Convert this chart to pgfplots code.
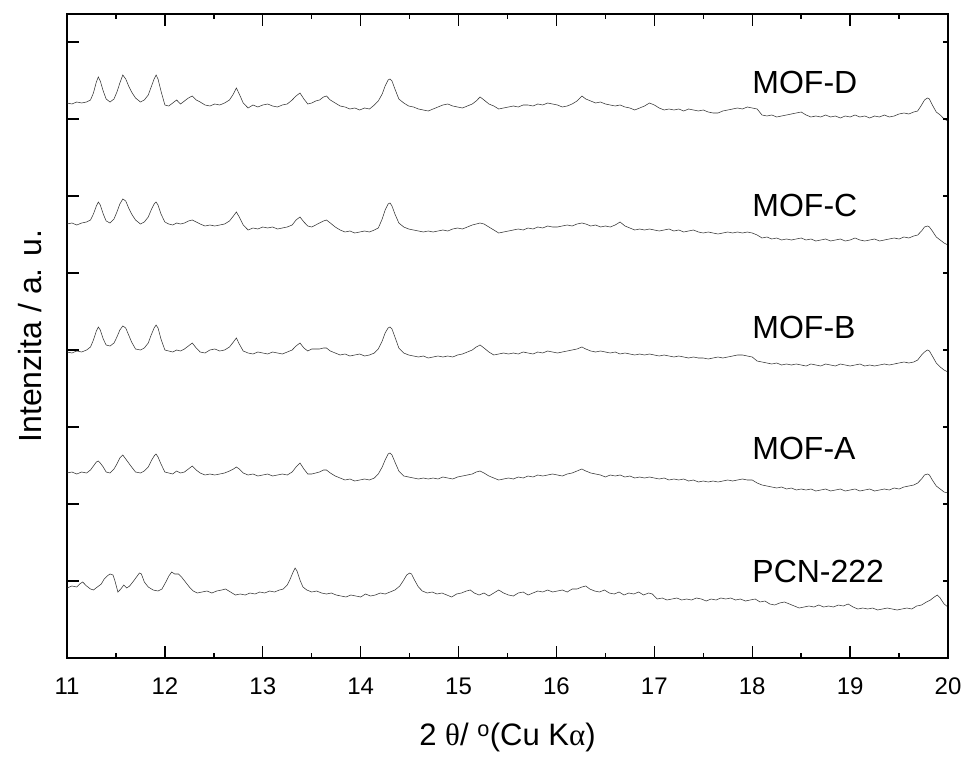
\documentclass[border=0pt]{standalone}
\usepackage{fontspec}
\setmainfont{Liberation Sans}
\newfontfamily\greek{Liberation Serif}
\usepackage{pgfplots}
\usepackage{pgfplotstable}
\pgfplotsset{compat=1.18}

% heights above a local baseline (arbitrary units), four MOF patterns on one 2theta grid
\pgfplotstableread{
x     D    C    B    A
11.00 0    0    0    0
11.05 -1   1    -1   1
11.10 1    -1   1    -1
11.15 0    1    0    1
11.20 1    2    2    0
11.24 3    4    5    3
11.27 10   10   12   7
11.30 21   18   21   11
11.32 26   22   25   12
11.34 22   19   22   10
11.37 12   10   13   6
11.40 4    3    7    1
11.44 1    1    6    0
11.48 4    5    9    4
11.51 11   12   15   9
11.54 20   20   22   15
11.57 28   25   26   18
11.60 24   23   24   14
11.63 17   16   17   10
11.66 11   10   10   6
11.70 5    4    3    1
11.75 1    0    2    0
11.79 3    2    4    2
11.83 8    7    9    6
11.86 16   14   17   12
11.89 24   20   24   17
11.91 28   22   27   19
11.93 24   19   24   16
11.96 12   10   13   9
12.00 -2   2    2    1
12.04 -3   0    1    0
12.08 0    -1   0    -1
12.12 3    1    2    2
12.16 -1   0    1    0
12.20 2    1    3    1
12.24 5    3    6    4
12.28 7    4    9    7
12.32 3    2    4    3
12.36 1    0    0    0
12.41 -2   -2   -1   -2
12.46 -3   -1   2    -1
12.51 -1   -2   3    -2
12.56 -2   -1   1    -1
12.61 0    0    2    0
12.66 3    3    5    2
12.70 9    8    10   4
12.73 15   12   14   6
12.76 9    7    8    4
12.80 0    -1   1    0
12.85 -5   -6   -1   -2
12.90 -2   -4   -2   -1
12.95 -4   -5   0    -3
13.00 -2   -3   -1   -2
13.05 -1   -4   -2   -1
13.10 -3   -3   0    -3
13.15 -4   -5   -1   -2
13.20 -2   -4   -2   -1
13.25 -1   -3   0    -2
13.30 3    -1   2    1
13.34 7    4    6    6
13.38 10   7    9    10
13.42 4    2    4    4
13.46 -1   -2   1    -1
13.50 0    -3   3    -1
13.54 2    -1   3    0
13.58 3    1    3    1
13.62 6    3    4    3
13.65 7    4    4    3
13.69 3    1    1    0
13.74 0    -3   -1   -3
13.79 -3   -6   -3   -5
13.84 -4   -8   -2   -7
13.89 -6   -7   -4   -6
13.94 -5   -9   -3   -8
13.99 -7   -8   -2   -7
14.04 -5   -7   -4   -6
14.09 -6   -8   -3   -7
14.14 -2   -6   -1   -5
14.18 2    -4   3    -1
14.22 9    5    11   6
14.25 17   14   19   13
14.28 23   20   24   19
14.30 24   21   25   20
14.32 22   18   23   18
14.35 14   10   15   11
14.39 4    1    4    2
14.44 0    -3   -1   -3
14.49 -3   -5   -3   -4
14.54 -4   -6   -4   -5
14.59 -6   -7   -5   -6
14.64 -7   -8   -4   -5
14.69 -8   -7   -6   -6
14.74 -6   -8   -5   -5
14.79 -4   -7   -4   -6
14.84 -2   -6   -5   -4
14.89 -1   -7   -4   -5
14.94 -3   -5   -5   -6
14.99 -4   -4   -3   -4
15.04 -5   -5   -2   -3
15.09 -3   -3   0    -2
15.14 -1   -1   2    -1
15.18 2    0    5    1
15.22 6    1    7    2
15.26 3    0    4    0
15.31 -1   -3   0    -3
15.36 -3   -6   -3   -5
15.41 -6   -9   -2   -7
15.46 -5   -8   -1   -6
15.51 -4   -7   -2   -5
15.56 -3   -6   -1   -6
15.61 -4   -5   -2   -4
15.66 -2   -6   0    -5
15.71 -2   -4   -1   -3
15.76 -3   -5   -2   -4
15.81 -1   -3   0    -2
15.86 -2   -4   -1   -3
15.91 0    -2   1    -2
15.96 -1   -3   0    -1
16.01 -2   -3   -1   -2
16.06 -4   -2   0    -3
16.11 -3   -1   1    -1
16.16 -1   -2   2    0
16.21 2    0    3    2
16.26 7    1    5    4
16.30 4    0    3    2
16.35 2    -2   1    0
16.40 0    -1   0    -1
16.45 1    -3   1    -2
16.50 -1   -2   0    -4
16.55 -2   -3   -1   -2
16.60 -3   -1   0    -3
16.65 -2   2    -2   -2
16.70 -4   -2   -1   -4
16.75 -5   -4   -2   -3
16.80 -7   -6   -3   -5
16.85 -5   -5   -2   -4
16.90 -3   -6   -3   -5
16.95 0    -5   -2   -4
17.00 -2   -6   -3   -5
17.05 -5   -7   -4   -6
17.10 -7   -6   -3   -5
17.15 -6   -5   -4   -7
17.20 -7   -7   -5   -6
17.25 -6   -6   -4   -7
17.30 -8   -8   -5   -6
17.35 -6   -7   -6   -8
17.40 -7   -6   -5   -7
17.45 -8   -8   -6   -9
17.50 -7   -9   -6   -8
17.55 -9   -8   -7   -9
17.60 -10  -9   -6   -8
17.65 -10  -10  -5   -9
17.70 -8   -9   -6   -8
17.75 -7   -8   -5   -7
17.80 -6   -9   -4   -8
17.85 -5   -8   -3   -7
17.90 -6   -9   -3   -6
17.95 -4   -8   -4   -7
18.00 -5   -9   -5   -7
18.05 -6   -11  -9   -10
18.10 -12  -14  -10  -12
18.15 -13  -13  -11  -13
18.20 -12  -15  -12  -14
18.25 -14  -14  -11  -15
18.30 -13  -16  -13  -14
18.35 -12  -15  -12  -16
18.40 -11  -16  -13  -15
18.45 -10  -15  -12  -17
18.50 -9   -14  -13  -16
18.55 -12  -16  -14  -17
18.60 -14  -15  -12  -16
18.65 -13  -17  -13  -18
18.70 -14  -16  -14  -17
18.75 -12  -15  -12  -16
18.80 -14  -17  -13  -18
18.85 -13  -16  -14  -17
18.90 -15  -15  -12  -16
18.95 -13  -17  -13  -18
19.00 -14  -16  -14  -17
19.05 -12  -14  -13  -16
19.10 -14  -16  -12  -18
19.15 -13  -17  -14  -17
19.20 -15  -16  -13  -16
19.25 -13  -15  -14  -18
19.30 -14  -17  -13  -17
19.35 -12  -16  -12  -16
19.40 -14  -15  -13  -17
19.45 -13  -14  -12  -15
19.50 -11  -15  -11  -16
19.55 -10  -13  -10  -14
19.60 -11  -14  -11  -13
19.65 -9   -12  -10  -12
19.69 -8   -11  -8   -10
19.73 -2   -7   -3   -6
19.76 3    -3   0    -2
19.79 5    -2   2    -1
19.81 4    -3   1    -2
19.84 -2   -7   -4   -7
19.88 -9   -13  -11  -13
19.92 -12  -16  -15  -16
19.96 -16  -19  -18  -19
20.00 -18  -21  -20  -20
}\mofdata

\pgfplotstableread{
x     P
11.00 -1
11.05 1
11.10 0
11.13 3
11.16 5
11.20 1
11.24 -2
11.27 -3
11.31 0
11.35 3
11.38 8
11.41 11
11.44 13
11.47 12
11.49 6
11.52 -5
11.55 -2
11.58 2
11.61 -1
11.64 1
11.68 6
11.71 10
11.74 14
11.76 13
11.79 5
11.83 0
11.88 -3
11.93 -4
11.97 -2
12.01 5
12.04 11
12.07 15
12.10 13
12.14 13
12.17 10
12.21 5
12.25 0
12.29 -4
12.33 -6
12.38 -5
12.43 -4
12.48 -6
12.53 -4
12.58 -3
12.62 -2
12.67 -5
12.72 -8
12.77 -7
12.82 -8
12.87 -6
12.92 -7
12.97 -5
13.02 -6
13.07 -4
13.12 -5
13.17 -3
13.21 -2
13.25 2
13.28 8
13.31 15
13.33 19
13.35 16
13.38 7
13.41 0
13.45 -3
13.50 -5
13.55 -4
13.60 -6
13.65 -7
13.70 -6
13.75 -8
13.80 -9
13.85 -10
13.90 -8
13.95 -9
14.00 -10
14.05 -7
14.10 -9
14.15 -8
14.20 -6
14.25 -7
14.30 -5
14.35 -3
14.40 1
14.44 7
14.47 12
14.50 14
14.52 13
14.55 7
14.59 0
14.63 -4
14.68 -6
14.73 -5
14.78 -7
14.83 -6
14.88 -8
14.93 -10
14.98 -7
15.03 -6
15.08 -4
15.12 -3
15.16 -6
15.21 -8
15.26 -6
15.31 -9
15.36 -6
15.41 -3
15.46 -6
15.51 -8
15.56 -9
15.61 -6
15.66 -5
15.71 -8
15.76 -6
15.81 -4
15.86 -5
15.91 -3
15.96 -5
16.01 -4
16.06 -3
16.11 -5
16.16 -2
16.21 -2
16.26 0
16.30 1
16.34 -2
16.39 -4
16.44 -5
16.49 -3
16.54 -6
16.59 -7
16.64 -5
16.69 -8
16.74 -6
16.79 -7
16.84 -5
16.89 -8
16.94 -6
16.98 -7
17.03 -12
17.08 -11
17.13 -13
17.18 -12
17.23 -11
17.28 -13
17.33 -12
17.38 -13
17.43 -11
17.48 -12
17.53 -14
17.58 -12
17.63 -13
17.68 -11
17.73 -12
17.78 -11
17.83 -13
17.88 -12
17.93 -14
17.98 -13
18.03 -12
18.08 -15
18.13 -14
18.18 -17
18.23 -18
18.28 -16
18.33 -15
18.38 -17
18.43 -19
18.48 -21
18.53 -20
18.58 -19
18.63 -20
18.68 -18
18.73 -20
18.78 -19
18.83 -20
18.88 -18
18.93 -19
18.98 -17
19.03 -20
19.08 -22
19.13 -21
19.18 -22
19.23 -21
19.28 -23
19.33 -22
19.38 -21
19.43 -22
19.48 -23
19.53 -22
19.58 -21
19.63 -22
19.68 -19
19.73 -18
19.78 -15
19.82 -13
19.86 -10
19.89 -8
19.92 -11
19.96 -17
20.00 -20
}\pcndata

\begin{document}
\begin{tikzpicture}
\pgfplotsset{
  xrdframe/.style={
    scale only axis, width=881pt, height=644pt,
    xmin=11, xmax=20, ymin=0, ymax=644,
    ytick={0,77,...,616}, yticklabels={},
    tick align=inside,
    axis line style={line width=1.6pt},
    every tick/.style={black, line width=1.4pt},
  },
  trace/.style={black!80, line width=0.55pt, mark=none},
}
\begin{axis}[
    xrdframe,
    xtick={11,...,20}, minor x tick num=1,
    ytick pos=left,
    major tick length=12pt, minor tick length=5pt,
    /pgf/number format/assume math mode=true,
    tick label style={font=\fontsize{24}{24}\selectfont},
    xticklabel style={yshift=-16pt},
    xlabel={2 {\greek θ}/ \textsuperscript{o}(Cu K{\greek α})},
    ylabel={Intenzita / a. u.},
    every axis x label/.style={at={(axis description cs:0.5,-0.123)}, anchor=center,
        font=\fontsize{31}{31}\selectfont},
    every axis y label/.style={at={(axis description cs:-0.042,0.5)}, rotate=90, anchor=center,
        font=\fontsize{32}{32}\selectfont},
]
\addplot[trace] table[x=x, y expr=\thisrow{D}+555] {\mofdata};
\addplot[trace] table[x=x, y expr=\thisrow{C}+434] {\mofdata};
\addplot[trace] table[x=x, y expr=\thisrow{B}+306] {\mofdata};
\addplot[trace] table[x=x, y expr=\thisrow{A}+185] {\mofdata};
\addplot[trace] table[x=x, y expr=\thisrow{P}+71] {\pcndata};

\begin{scope}[every node/.style={anchor=west, inner sep=0pt, font=\fontsize{32}{32}\selectfont}]
\node at (axis cs:18.0,576) {MOF-D};
\node at (axis cs:18.0,453) {MOF-C};
\node at (axis cs:18.0,331) {MOF-B};
\node at (axis cs:18.0,210) {MOF-A};
\node at (axis cs:18.0,87) {PCN-222};
\end{scope}
\coordinate (O) at (rel axis cs:0,0);
\end{axis}
% short ticks on the right-hand frame
\begin{axis}[
    xrdframe,
    hide x axis, axis y line*=right,
    major tick length=5pt,
]
\end{axis}
\path (O) ++(-67pt,-100pt) rectangle ++(965pt,758pt);
\end{tikzpicture}
\end{document}
